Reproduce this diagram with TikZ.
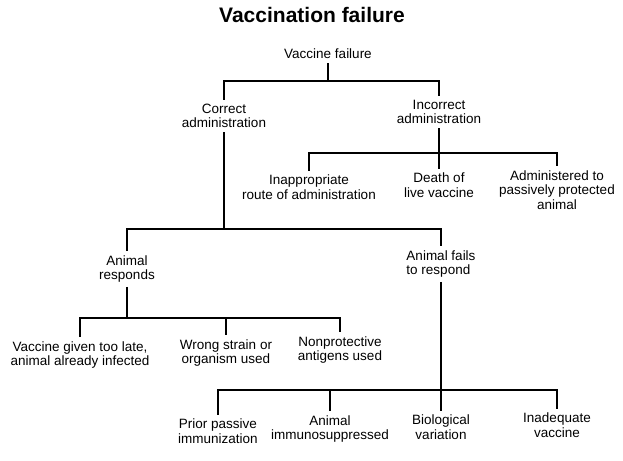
\documentclass[tikz,border=0pt]{standalone}
\usepackage{fontspec}
\setmainfont{Liberation Sans}

\begin{document}
\begin{tikzpicture}[x=1pt,y=-1pt,line width=2.5pt,
  lbl/.style={align=center,font=\fontsize{13.5}{14.5}\selectfont,inner sep=3pt}]
\useasboundingbox (0,0) rectangle (623,460);
\node[font=\fontsize{21}{23}\selectfont\bfseries] (title) at (312,15) {Vaccination failure};
\node[lbl] (vf) at (328,54) {Vaccine failure};
\node[lbl] (ca) at (224,116) {Correct\\administration};
\node[lbl] (ia) at (439,112) {Incorrect\\administration};
\node[lbl] (ira) at (309,187) {Inappropriate\\route of administration};
\node[lbl] (dlv) at (439,185) {Death of\\live vaccine};
\node[lbl] (apa) at (557,190) {Administered to\\passively protected\\animal};
\node[lbl] (ar) at (127,269) {Animal\\responds};
\node[lbl,align=left] (af) at (441,264) {Animal fails\\to respond};
\node[lbl] (vl) at (80,355) {Vaccine given too late,\\animal already infected};
\node[lbl] (ws) at (226,353) {Wrong strain or\\organism used};
\node[lbl] (np) at (340,350) {Nonprotective\\antigens used};
\node[lbl] (pp) at (218,431) {Prior passive\\immunization};
\node[lbl] (ai) at (330,429) {Animal\\immunosuppressed};
\node[lbl] (bv) at (441,427) {Biological\\variation};
\node[lbl] (iv) at (557,425) {Inadequate\\vaccine};
\coordinate (b1) at (vf.south |- 0,81);
\coordinate (b2) at (ia.south |- 0,153);
\coordinate (b3) at (ca.south |- 0,229);
\coordinate (b4) at (ar.south |- 0,318);
\coordinate (b5) at (af.south |- 0,390);
\draw (vf.south) -- (b1) -| (ca.north) (b1) -| (ia.north);
\draw (ia.south) -- (b2) -| (ira.north) (b2) -| (apa.north) (b2) -- (dlv.north);
\draw (ca.south) -- (b3) -| (ar.north) (b3) -| (af.north);
\draw (ar.south) -- (b4) -| (vl.north) (b4) -| (np.north) (b4) -| (ws.north);
\draw (af.south) -- (b5) -| (pp.north) (b5) -| (iv.north) (b5) -| (ai.north) (b5) -- (bv.north);
\end{tikzpicture}
\end{document}
